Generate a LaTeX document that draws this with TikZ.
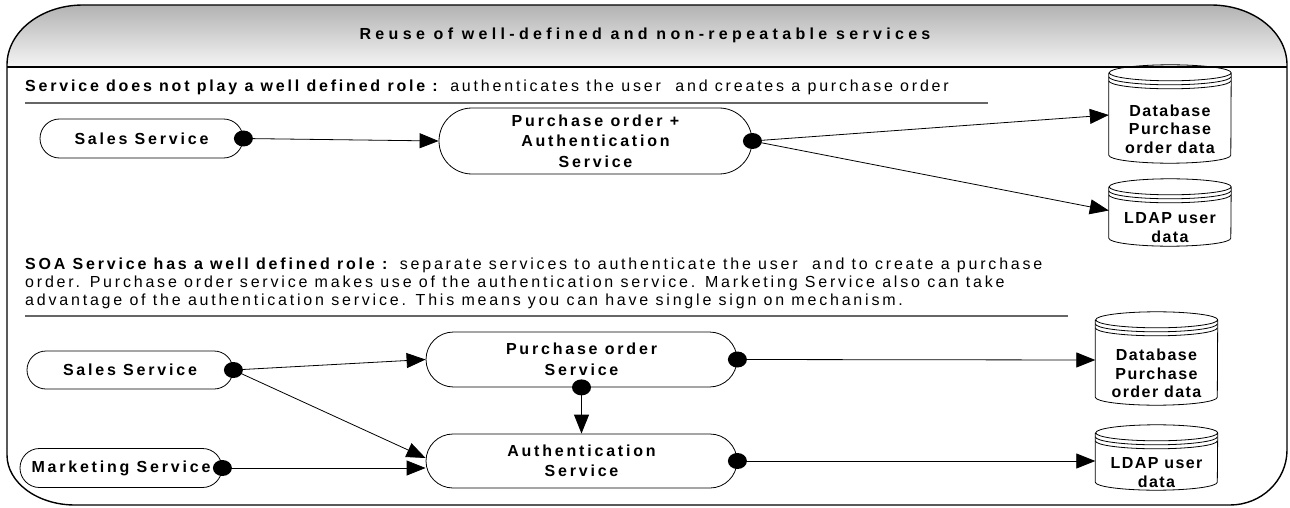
\documentclass[tikz,border=0pt]{standalone}
\usepackage{fontspec}
\setmainfont{Liberation Sans}
\newfontfamily\espace[LetterSpace=17.5]{Liberation Sans}
\newfontfamily\serre[LetterSpace=9]{Liberation Sans}
\newfontfamily\titre[LetterSpace=27]{Liberation Sans}
\usetikzlibrary{arrows.meta,shapes.geometric}

\begin{document}
\begin{tikzpicture}[x=1pt,y=-1pt]
	% Styles (MODIFIABLES)
	\tikzstyle{fleche}=[-{Triangle[length=19pt,width=15pt]},line width=0.8pt]
	\tikzstyle{noeud}=[draw,line width=0.8pt,minimum height=39pt,inner sep=0pt,align=center,font=\espace\bfseries\fontsize{16}{20.5}\selectfont]
	\tikzstyle{base}=[inner sep=0pt,minimum width=122pt,align=center,font=\serre\bfseries\fontsize{16}{18.5}\selectfont]
	\tikzstyle{point}=[ellipse,fill,inner sep=0pt,minimum width=19pt,minimum height=16pt]
	\tikzstyle{commentaire}=[inner sep=0pt,align=left,font=\espace\fontsize{16}{17.7}\selectfont]
	\tikzstyle{separation}=[line width=1.2pt,black!60]
	\tikzstyle{cadre}=[line width=1.4pt]
	% Cylindre autour d'une base (MODIFIABLE : rayons)
	\def\cylindre#1{%
		\draw[line width=0.8pt] ([yshift=22pt]#1.north west) -- ([yshift=8pt]#1.south west)
			arc[start angle=180,end angle=360,x radius=61pt,y radius=8pt]
			-- ([yshift=22pt]#1.north east)
			arc[start angle=0,end angle=180,x radius=61pt,y radius=8pt]
			arc[start angle=180,end angle=360,x radius=61pt,y radius=8pt];
		\draw[line width=0.8pt] ([yshift=18pt]#1.north west) arc[start angle=180,end angle=360,x radius=61pt,y radius=8pt];
		\draw[line width=0.8pt] ([yshift=14pt]#1.north west) arc[start angle=180,end angle=360,x radius=61pt,y radius=8pt];
	}
	\useasboundingbox (0,0) rectangle (1290,508);
	% Cadre et bandeau
	\shade[top color=black!30,bottom color=black!4] (7,67) -- (7,65) arc[start angle=180,end angle=90,x radius=76pt,y radius=60pt]
		-- (1211,5) arc[start angle=90,end angle=0,x radius=76pt,y radius=60pt] -- (1287,67) -- cycle;
	\draw[cadre] (7,65) arc[start angle=180,end angle=90,x radius=76pt,y radius=60pt]
		-- (1211,5) arc[start angle=90,end angle=0,x radius=76pt,y radius=60pt]
		-- (1287,450) arc[start angle=0,end angle=-90,x radius=57pt,y radius=55pt]
		-- (75,505) arc[start angle=270,end angle=180,x radius=68pt,y radius=50pt] -- cycle;
	\draw[cadre] (7,67) -- (1287,67);
	\node[font=\titre\bfseries\fontsize{16}{17}\selectfont] (titre) at (645,35) {Reuse of well-defined and non-repeatable services};
	%
	% Partie haute
	\node[commentaire,anchor=base west] (roleA) at (25,92) {\textbf{Service does not play a well defined role :} authenticates the user~ and creates a purchase order};
	\draw[separation] (25,103) -- (988,103);
	\node[noeud,minimum width=203pt,rounded corners=19.5pt] (venteA) at (141.5,138.5) {Sales Service};
	\node[noeud,minimum width=313pt,minimum height=66pt,rounded corners=33pt] (commandeAuth) at (595.5,141) {Purchase order +\\Authentication\\Service};
	\node[base,minimum height=68pt] (baseA) at (1170,129) {Database\\Purchase\\order data};
	\node[base,minimum height=37pt] (ldapA) at (1170,227.5) {LDAP user\\data};
	\cylindre{baseA}
	\cylindre{ldapA}
	%
	% Partie basse
	\node[commentaire,anchor=north west] (roleB) at (25,258) {\textbf{SOA Service has a well defined role :} separate services to authenticate the user~ and to create a purchase\\order. Purchase order service makes use of the authentication service. Marketing Service also can take\\advantage of the authentication service. This means you can have single sign on mechanism.};
	\draw[separation] (25,316) -- (1068,316);
	\node[noeud,minimum width=206pt,minimum height=38pt,rounded corners=19pt] (venteB) at (130,370) {Sales Service};
	\node[noeud,minimum width=202pt,rounded corners=19.5pt] (marketing) at (121,468) {Marketing Service};
	\node[noeud,minimum width=311pt,minimum height=55pt,rounded corners=27.5pt] (commande) at (581.5,359.5) {Purchase order\\Service};
	\node[noeud,minimum width=311pt,minimum height=54pt,rounded corners=27pt] (auth) at (581.5,461) {Authentication\\Service};
	\node[base,minimum height=63pt] (baseB) at (1156.5,373.5) {Database\\Purchase\\order data};
	\node[base,minimum height=35pt] (ldapB) at (1156.5,472.5) {LDAP user\\data};
	\cylindre{baseB}
	\cylindre{ldapB}
	%
	% Points de depart
	\node[point] (pVenteA) at (venteA.east) {};
	\node[point] (pCommandeAuth) at (commandeAuth.east) {};
	\node[point] (pVenteB) at (venteB.east) {};
	\node[point] (pMarketing) at (marketing.east) {};
	\node[point] (pCommande) at (commande.east) {};
	\node[point] (pCommandeSud) at (commande.south) {};
	\node[point] (pAuth) at (auth.east) {};
	%
	% Arcs
	\draw[fleche] (pVenteA.center) -- (commandeAuth.west);
	\draw[fleche] (pCommandeAuth.center) -- ([yshift=14pt]baseA.west);
	\draw[fleche] (pCommandeAuth.center) -- ([yshift=17pt]ldapA.west);
	\draw[fleche] (pVenteB.center) -- (commande.west);
	\draw[fleche] (pVenteB.center) -- ([yshift=3pt]auth.west);
	\draw[fleche] (pMarketing.center) -- ([yshift=-7pt]auth.west);
	\draw[fleche] (pCommandeSud.center) -- (auth.north);
	\draw[fleche] (pCommande.center) -- ([yshift=13.5pt]baseB.west);
	\draw[fleche] (pAuth.center) -- ([yshift=11.5pt]ldapB.west);
\end{tikzpicture}
\end{document}
